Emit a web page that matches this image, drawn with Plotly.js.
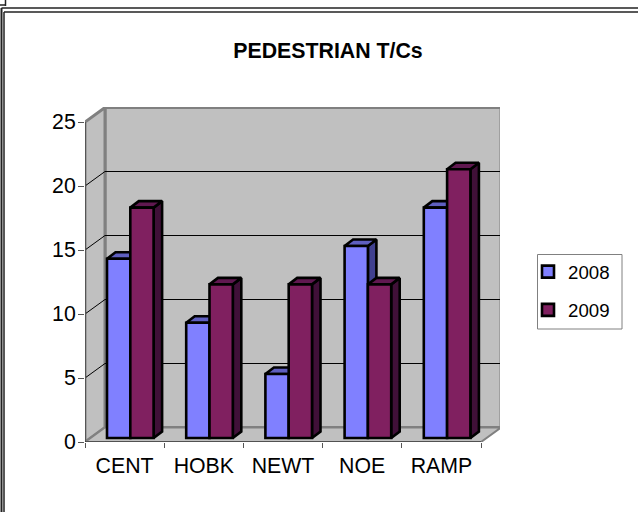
<!DOCTYPE html>
<html><head><meta charset="utf-8">
<script src="https://cdn.plot.ly/plotly-3.0.1.min.js"></script>
<style>html,body{margin:0;padding:0;background:#fff}#c{width:638px;height:512px}</style></head>
<body><div id="c"></div>
<script>
const categories = ['CENT','HOBK','NEWT','NOE','RAMP'];
const values2008 = [14,9,5,15,18];
const values2009 = [18,12,12,12,21];
const yTicks = [0,5,10,15,20,25];
const title = 'PEDESTRIAN T/Cs';

const ML=85, MR=138, MT=107, MB=70, W=638, H=512;
const PW=W-ML-MR, PH=H-MT-MB;
const px=v=>(v-ML)/PW, py=v=>(H-MB-v)/PH;
const xUnit=79.2, yUnit=12.8;
const xRange=[0,PW/xUnit], yRange=[0,PH/yUnit];
const wallDx=20/xUnit, wallDy=14.5/yUnit;
const barW=23.3/xUnit, barStart=22/xUnit, barLift=4/yUnit, barDx=8.5/xUnit, barDy=6.5/yUnit;
const nCat=categories.length;

function poly(list){const x=[],y=[];list.forEach(p=>{p.forEach(q=>{x.push(q[0]);y.push(q[1]);});x.push(p[0][0],null);y.push(p[0][1],null);});return {x,y};}
function face(list,fill,lineColor,lineW,z){const d=poly(list);return {type:'scatter',mode:'lines',x:d.x,y:d.y,fill:'toself',fillcolor:fill,line:{color:lineColor,width:lineW},showlegend:false,hoverinfo:'skip',zorder:z,cliponaxis:false};}
function seg(list,color,width,z){const x=[],y=[];list.forEach(s=>{x.push(s[0][0],s[1][0],null);y.push(s[0][1],s[1][1],null);});return {type:'scatter',mode:'lines',x,y,line:{color,width},showlegend:false,hoverinfo:'skip',zorder:z,cliponaxis:false};}

const xEnd=nCat, xBack=xEnd+wallDx;
const yMax=25;
const traces=[];
traces.push(face([[[wallDx,wallDy],[wallDx,yMax+wallDy],[xBack,yMax+wallDy],[xBack,wallDy]]],'#c0c0c0','#808080',3,0));
traces.push(face([[[0,0],[wallDx,wallDy],[wallDx,yMax+wallDy],[0,yMax]]],'#c0c0c0','#808080',3,0));
traces.push(face([[[0,0],[wallDx,wallDy],[xBack,wallDy],[xEnd,0]]],'#c0c0c0','#808080',2,0));
const inner=yTicks.filter(v=>v>0&&v<yMax);
traces.push(seg(inner.map(v=>[[wallDx,v+wallDy],[xBack,v+wallDy]]),'#000',1,0));
traces.push(seg(inner.map(v=>[[0,v],[wallDx,v+wallDy]]),'#000',1,0));
traces.push(seg([[[0,0],[0,yMax]]],'#555',2,0));
traces.push(seg([[[0,0],[xEnd,0]]],'#222',1.2,0));

function depthFaces(vals,start,topCol,sideCol,z){
  const tops=[],sides=[];
  vals.forEach((v,i)=>{const l=i+start,r=l+barW,b=barLift,t=v+barLift;
    tops.push([[l,t],[l+barDx,t+barDy],[r+barDx,t+barDy],[r,t]]);
    sides.push([[r,b],[r+barDx,b+barDy],[r+barDx,t+barDy],[r,t]]);});
  return [face(sides,sideCol,'#000',2.6,z),face(tops,topCol,'#000',2.6,z)];
}
function bars(name,vals,start,col,z){
  return {type:'bar',name,x:vals.map((v,i)=>i),y:vals,base:barLift,width:barW,offset:start,
    marker:{color:col,line:{color:'#000',width:2.6}},zorder:z,hoverinfo:'skip',legendgroup:name};
}
traces.push(...depthFaces(values2008,barStart,'#5f5fc0','#40408f',1));
traces.push(bars('2008',values2008,barStart,'#8080ff',2));
traces.push(...depthFaces(values2009,barStart+barW,'#601850','#401038',3));
traces.push(bars('2009',values2009,barStart+barW,'#802060',4));

function pline(x0,y0,x1,y1,w){return {type:'line',xref:'paper',yref:'paper',x0:px(x0),x1:px(x1),y0:py(y0),y1:py(y1),line:{color:'#222',width:w},layer:'below'};}
const layout={width:W,height:H,margin:{l:ML,r:MR,t:MT,b:MB,pad:0},paper_bgcolor:'#fff',plot_bgcolor:'#fff',
 barmode:'overlay',showlegend:true,
 title:{text:'<b>'+title+'</b>',font:{family:'Liberation Sans',size:21.3,color:'#000'},x:328/W,xanchor:'center',y:1-51/H,yanchor:'middle'},
 font:{family:'Liberation Sans',size:21.3,color:'#000'},
 xaxis:{type:'linear',range:xRange,fixedrange:true,showgrid:false,zeroline:false,showline:false,
   tickmode:'array',tickvals:categories.map((c,i)=>i+0.5),ticktext:categories,ticks:'',tickfont:{size:21.3},ticklabelstandoff:9,
   minor:{tickmode:'array',tickvals:Array.from({length:nCat+1},(_,i)=>i),ticks:'outside',ticklen:5,tickcolor:'#555',tickwidth:1,showgrid:false}},
 yaxis:{type:'linear',range:yRange,fixedrange:true,showgrid:false,zeroline:false,showline:false,
   tickmode:'array',tickvals:yTicks,ticks:'outside',ticklen:6,tickcolor:'#555',tickwidth:1,tickfont:{size:21.3},ticklabelstandoff:-2},
 legend:{x:px(537),xanchor:'left',y:py(253),yanchor:'top',borderwidth:0,bgcolor:'rgba(0,0,0,0)',indentation:-9,
   font:{family:'Liberation Sans',size:18.67,color:'#000'},tracegroupgap:11,traceorder:'grouped',itemwidth:30,itemclick:false,itemdoubleclick:false},
 shapes:[
  {type:'rect',xref:'paper',yref:'paper',x0:px(537.5),x1:px(622),y0:py(254.5),y1:py(329),line:{color:'#808080',width:1},fillcolor:'#fff',layer:'below'},
  pline(1.5,8,1.5,512,2),pline(1.5,8,638,8,1.5),pline(4,12,4,512,1.5),pline(4,12,638,12,1.5),pline(5.5,0,5.5,6,1.5),pline(0,5,5.5,5,1.5)
 ]};
Plotly.newPlot('c',traces,layout,{displayModeBar:false,staticPlot:true});
</script></body></html>
